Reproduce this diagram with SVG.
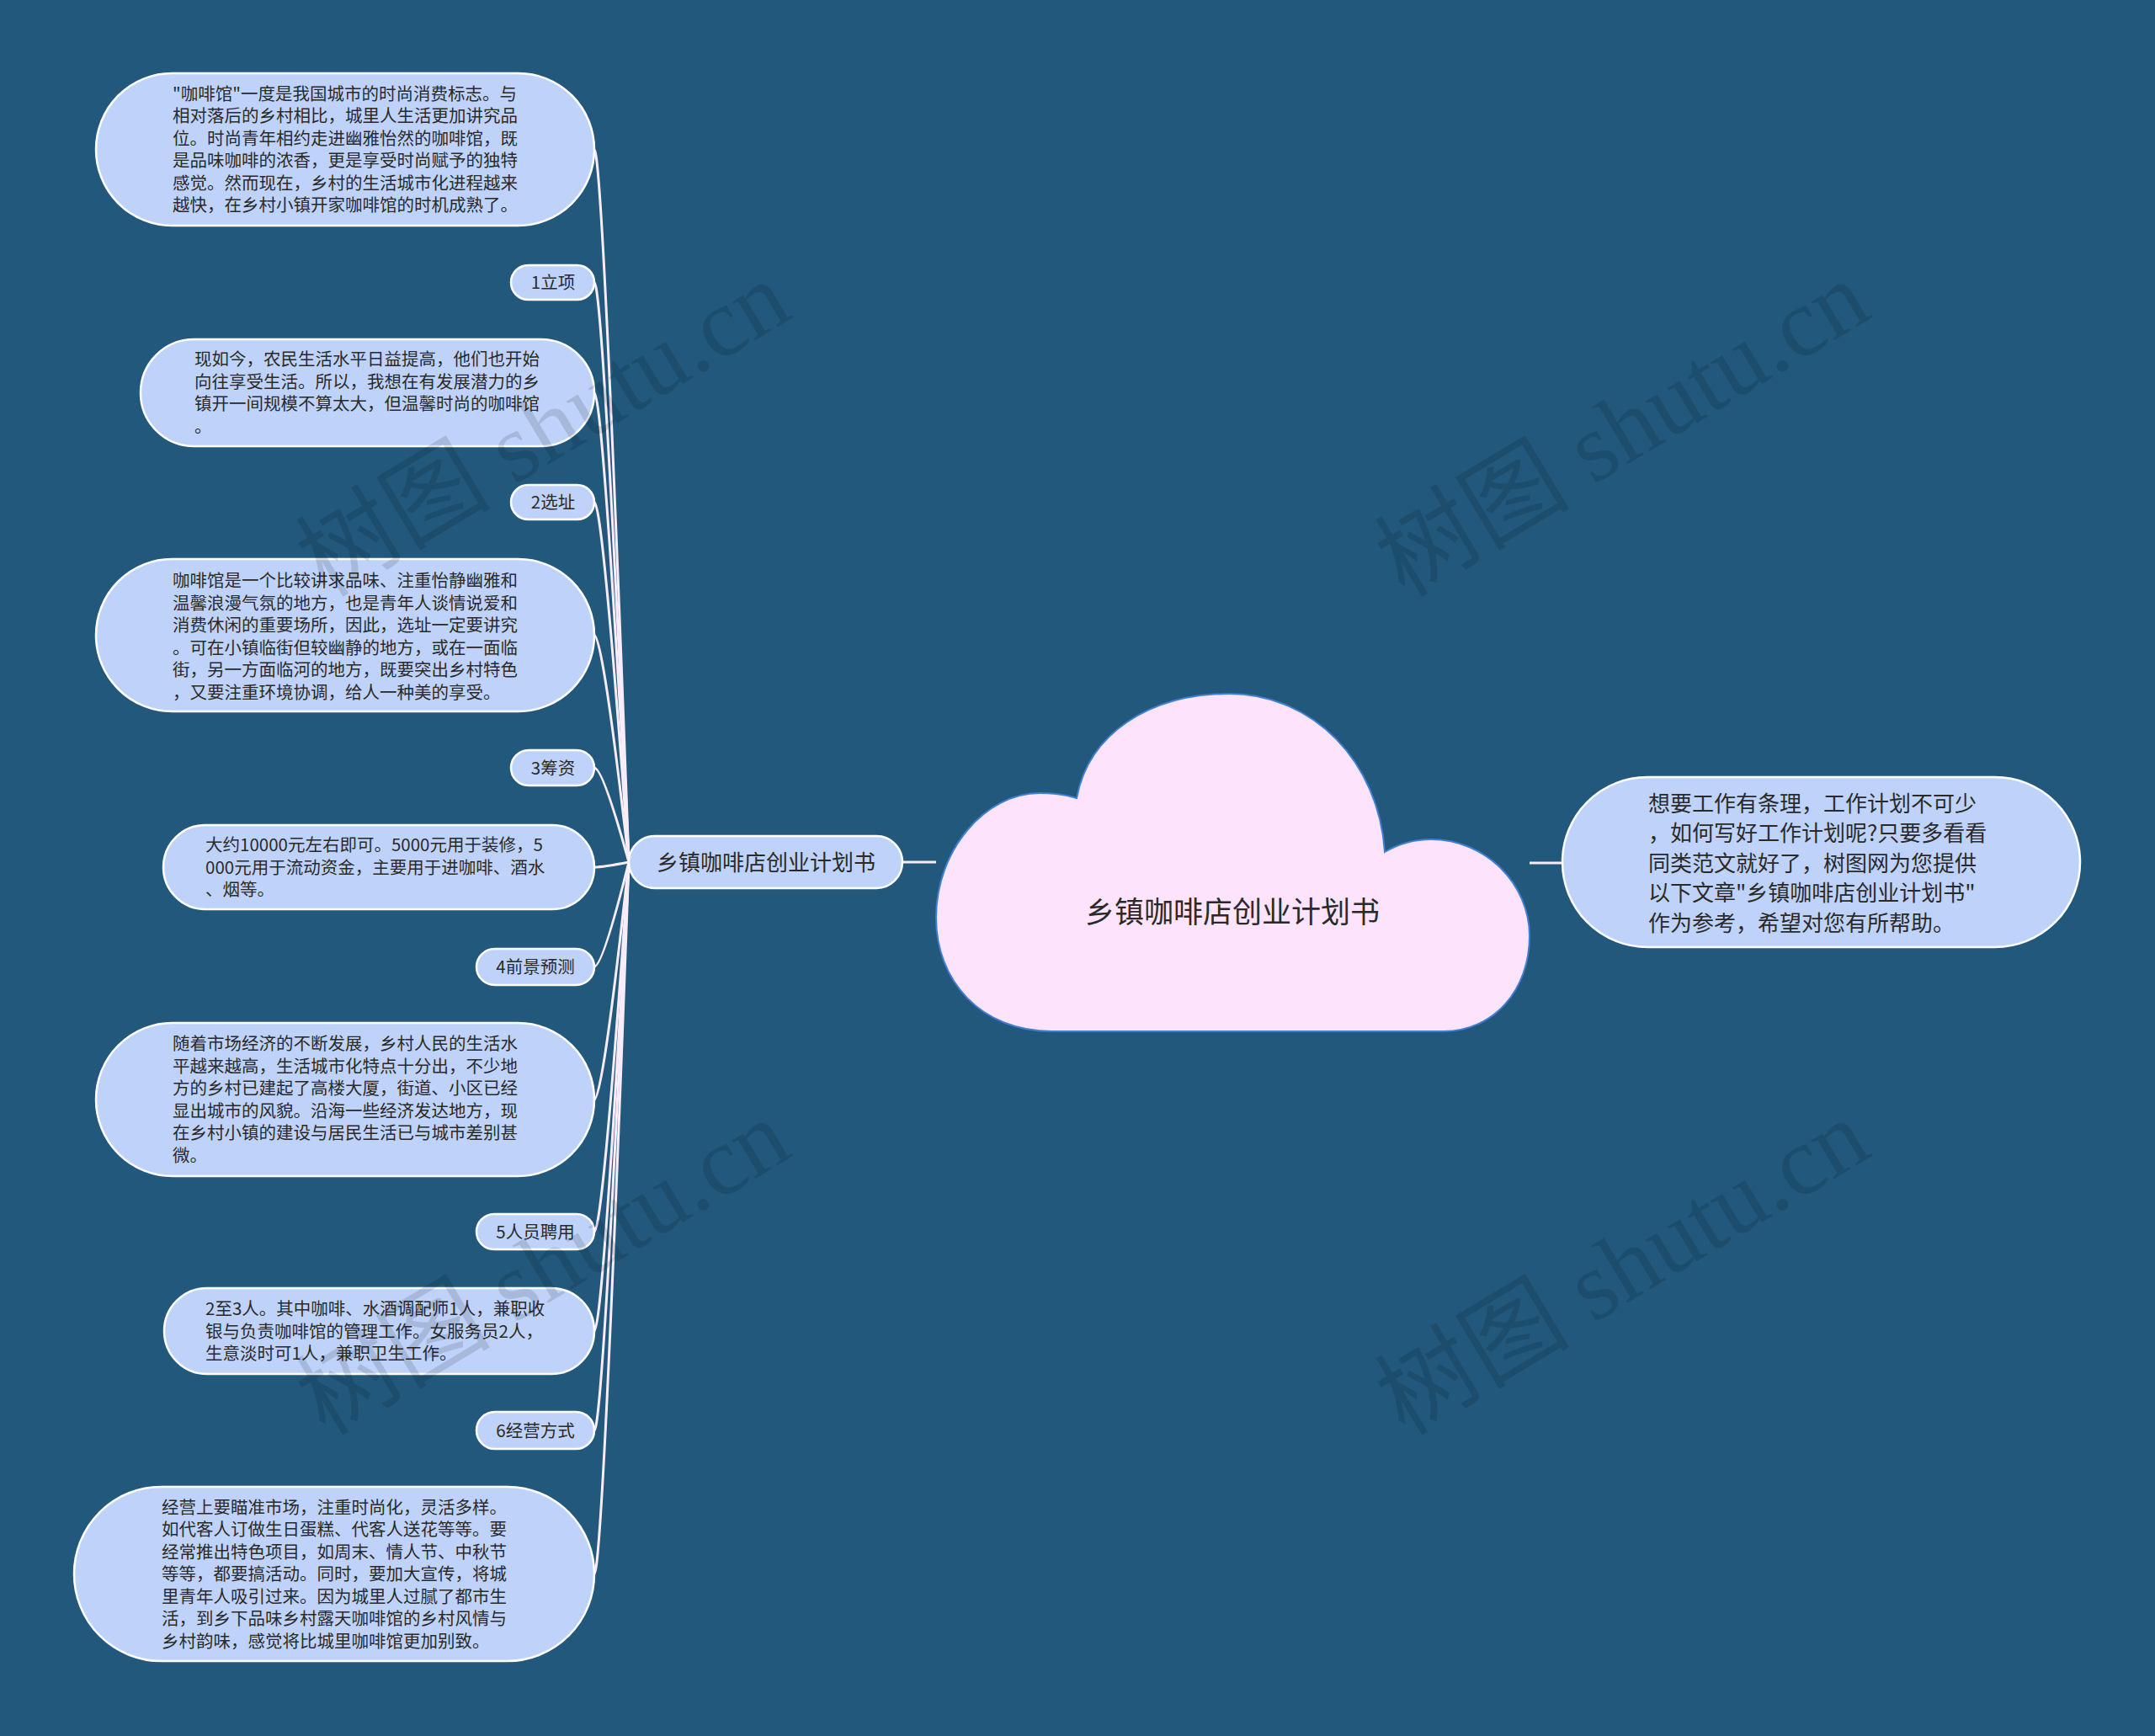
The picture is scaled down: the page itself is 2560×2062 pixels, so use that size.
<svg xmlns="http://www.w3.org/2000/svg" width="2560" height="2062" viewBox="0 0 2560 2062">
<style>
.leaf{fill:#bfd3fa;stroke:#ffffff;stroke-width:2.5}
.t{font-family:"Noto Sans CJK SC","Noto Sans",sans-serif;fill:#2a2a2a}
.s{font-size:20.5px}
.lbl{font-size:20.5px;text-anchor:middle}
.conn{fill:none;stroke:#f7ecf7;stroke-width:3}
.wm{font-family:"Liberation Serif","Noto Sans CJK SC",serif;font-size:116px;fill:#000;fill-opacity:0.12;text-anchor:middle}
</style>
<rect x="0" y="0" width="2560" height="2062" fill="#22587b"/>
<g id="connectors">
<path class="conn" d="M747 1024 Q716 177.5 706 177.5"/>
<path class="conn" d="M747 1024 Q716 335.5 706 335.5"/>
<path class="conn" d="M747 1024 Q716 466.5 706 466.5"/>
<path class="conn" d="M747 1024 Q716 596.5 706 596.5"/>
<path class="conn" d="M747 1024 Q716 754.5 706 754.5"/>
<path class="conn" d="M747 1024 Q716 912 706 912"/>
<path class="conn" d="M747 1024 Q716 1030 706 1030"/>
<path class="conn" d="M747 1024 Q716 1148 706 1148"/>
<path class="conn" d="M747 1024 Q716 1306 706 1306"/>
<path class="conn" d="M747 1024 Q716 1463 706 1463"/>
<path class="conn" d="M747 1024 Q716 1581 706 1581"/>
<path class="conn" d="M747 1024 Q716 1699 706 1699"/>
<path class="conn" d="M747 1024 Q716 1869.5 706 1869.5"/>
<path class="conn" d="M1072 1024 L1112 1024"/>
<path class="conn" d="M1817 1025 L1856 1025"/>
</g>
<g id="root">
<path d="M1250 1225 C1165 1225 1112 1165 1112 1090 C1112 1010 1170 942 1235 942 C1252 942 1266 944 1279 948 C1293 872 1365 824 1460 824 C1560 824 1638 905 1645 1012 C1662 1002 1680 997 1700 997 C1765 997 1817 1050 1817 1112 C1817 1175 1775 1225 1715 1225 Z" fill="#fde4fc" stroke="#3f7fcf" stroke-width="2"/>
<text class="t" x="1464" y="1096" font-size="35" text-anchor="middle">乡镇咖啡店创业计划书</text>
</g>
<g id="branch">
<rect class="leaf" x="747" y="993" width="325" height="62" rx="31"/>
<text class="t" x="910" y="1034" font-size="26" text-anchor="middle">乡镇咖啡店创业计划书</text>
</g>
<g id="summary">
<rect class="leaf" x="1856" y="923" width="615" height="202" rx="101"/>
<text class="t" x="1958" y="963.5" font-size="26"><tspan x="1958">想要工作有条理，工作计划不可少</tspan><tspan x="1958" dy="35.5">，如何写好工作计划呢?只要多看看</tspan><tspan x="1958" dy="35.5">同类范文就好了，树图网为您提供</tspan><tspan x="1958" dy="35.5">以下文章"乡镇咖啡店创业计划书"</tspan><tspan x="1958" dy="35.5">作为参考，希望对您有所帮助。</tspan></text>
</g>
<g id="n1">
<rect class="leaf" x="114" y="87" width="592" height="181" rx="90.5"/>
<text class="t s" x="205" y="118.8"><tspan x="205">"咖啡馆"一度是我国城市的时尚消费标志。与</tspan><tspan x="205" dy="26.5">相对落后的乡村相比，城里人生活更加讲究品</tspan><tspan x="205" dy="26.5">位。时尚青年相约走进幽雅怡然的咖啡馆，既</tspan><tspan x="205" dy="26.5">是品味咖啡的浓香，更是享受时尚赋予的独特</tspan><tspan x="205" dy="26.5">感觉。然而现在，乡村的生活城市化进程越来</tspan><tspan x="205" dy="26.5">越快，在乡村小镇开家咖啡馆的时机成熟了。</tspan></text>
</g>
<g id="l1">
<rect class="leaf" x="607" y="315" width="99" height="41" rx="20.5"/>
<text class="t lbl" x="657" y="343">1立项</text>
</g>
<g id="n2">
<rect class="leaf" x="167" y="403" width="539" height="127" rx="63.5"/>
<text class="t s" x="231" y="434.3"><tspan x="231">现如今，农民生活水平日益提高，他们也开始</tspan><tspan x="231" dy="26.5">向往享受生活。所以，我想在有发展潜力的乡</tspan><tspan x="231" dy="26.5">镇开一间规模不算太大，但温馨时尚的咖啡馆</tspan><tspan x="231" dy="26.5">。</tspan></text>
</g>
<g id="l2">
<rect class="leaf" x="607" y="576" width="99" height="41" rx="20.5"/>
<text class="t lbl" x="657" y="604">2选址</text>
</g>
<g id="n3">
<rect class="leaf" x="114" y="664" width="592" height="181" rx="90.5"/>
<text class="t s" x="205" y="697"><tspan x="205">咖啡馆是一个比较讲求品味、注重怡静幽雅和</tspan><tspan x="205" dy="26.5">温馨浪漫气氛的地方，也是青年人谈情说爱和</tspan><tspan x="205" dy="26.5">消费休闲的重要场所，因此，选址一定要讲究</tspan><tspan x="205" dy="26.5">。可在小镇临街但较幽静的地方，或在一面临</tspan><tspan x="205" dy="26.5">街，另一方面临河的地方，既要突出乡村特色</tspan><tspan x="205" dy="26.5">，又要注重环境协调，给人一种美的享受。</tspan></text>
</g>
<g id="l3">
<rect class="leaf" x="607" y="891" width="99" height="42" rx="21"/>
<text class="t lbl" x="657" y="919.5">3筹资</text>
</g>
<g id="n4">
<rect class="leaf" x="194" y="980" width="512" height="100" rx="50"/>
<text class="t s" x="244" y="1011"><tspan x="244">大约10000元左右即可。5000元用于装修，5</tspan><tspan x="244" dy="26.5">000元用于流动资金，主要用于进咖啡、酒水</tspan><tspan x="244" dy="26.5">、烟等。</tspan></text>
</g>
<g id="l4">
<rect class="leaf" x="566" y="1127" width="140" height="43" rx="21.5"/>
<text class="t lbl" x="636" y="1155.5">4前景预测</text>
</g>
<g id="n5">
<rect class="leaf" x="114" y="1215" width="592" height="182" rx="91"/>
<text class="t s" x="205" y="1247.3"><tspan x="205">随着市场经济的不断发展，乡村人民的生活水</tspan><tspan x="205" dy="26.5">平越来越高，生活城市化特点十分出，不少地</tspan><tspan x="205" dy="26.5">方的乡村已建起了高楼大厦，街道、小区已经</tspan><tspan x="205" dy="26.5">显出城市的风貌。沿海一些经济发达地方，现</tspan><tspan x="205" dy="26.5">在乡村小镇的建设与居民生活已与城市差别甚</tspan><tspan x="205" dy="26.5">微。</tspan></text>
</g>
<g id="l5">
<rect class="leaf" x="566" y="1442" width="140" height="42" rx="21"/>
<text class="t lbl" x="636" y="1470.5">5人员聘用</text>
</g>
<g id="n6">
<rect class="leaf" x="195" y="1530" width="511" height="102" rx="51"/>
<text class="t s" x="244" y="1562"><tspan x="244">2至3人。其中咖啡、水酒调配师1人，兼职收</tspan><tspan x="244" dy="26.5">银与负责咖啡馆的管理工作。女服务员2人，</tspan><tspan x="244" dy="26.5">生意淡时可1人，兼职卫生工作。</tspan></text>
</g>
<g id="l6">
<rect class="leaf" x="566" y="1677" width="140" height="44" rx="22"/>
<text class="t lbl" x="636" y="1706.5">6经营方式</text>
</g>
<g id="n7">
<rect class="leaf" x="88" y="1766" width="618" height="207" rx="103.5"/>
<text class="t s" x="192" y="1797.5"><tspan x="192">经营上要瞄准市场，注重时尚化，灵活多样。</tspan><tspan x="192" dy="26.5">如代客人订做生日蛋糕、代客人送花等等。要</tspan><tspan x="192" dy="26.5">经常推出特色项目，如周末、情人节、中秋节</tspan><tspan x="192" dy="26.5">等等，都要搞活动。同时，要加大宣传，将城</tspan><tspan x="192" dy="26.5">里青年人吸引过来。因为城里人过腻了都市生</tspan><tspan x="192" dy="26.5">活，到乡下品味乡村露天咖啡馆的乡村风情与</tspan><tspan x="192" dy="26.5">乡村韵味，感觉将比城里咖啡馆更加别致。</tspan></text>
</g>
<g id="watermarks">
<text class="wm" x="648" y="548" transform="rotate(-31 648 514)">树图 shutu.cn</text>
<text class="wm" x="1930" y="548" transform="rotate(-31 1930 514)">树图 shutu.cn</text>
<text class="wm" x="648" y="1544" transform="rotate(-31 648 1510)">树图 shutu.cn</text>
<text class="wm" x="1930" y="1544" transform="rotate(-31 1930 1510)">树图 shutu.cn</text>
</g>
</svg>
